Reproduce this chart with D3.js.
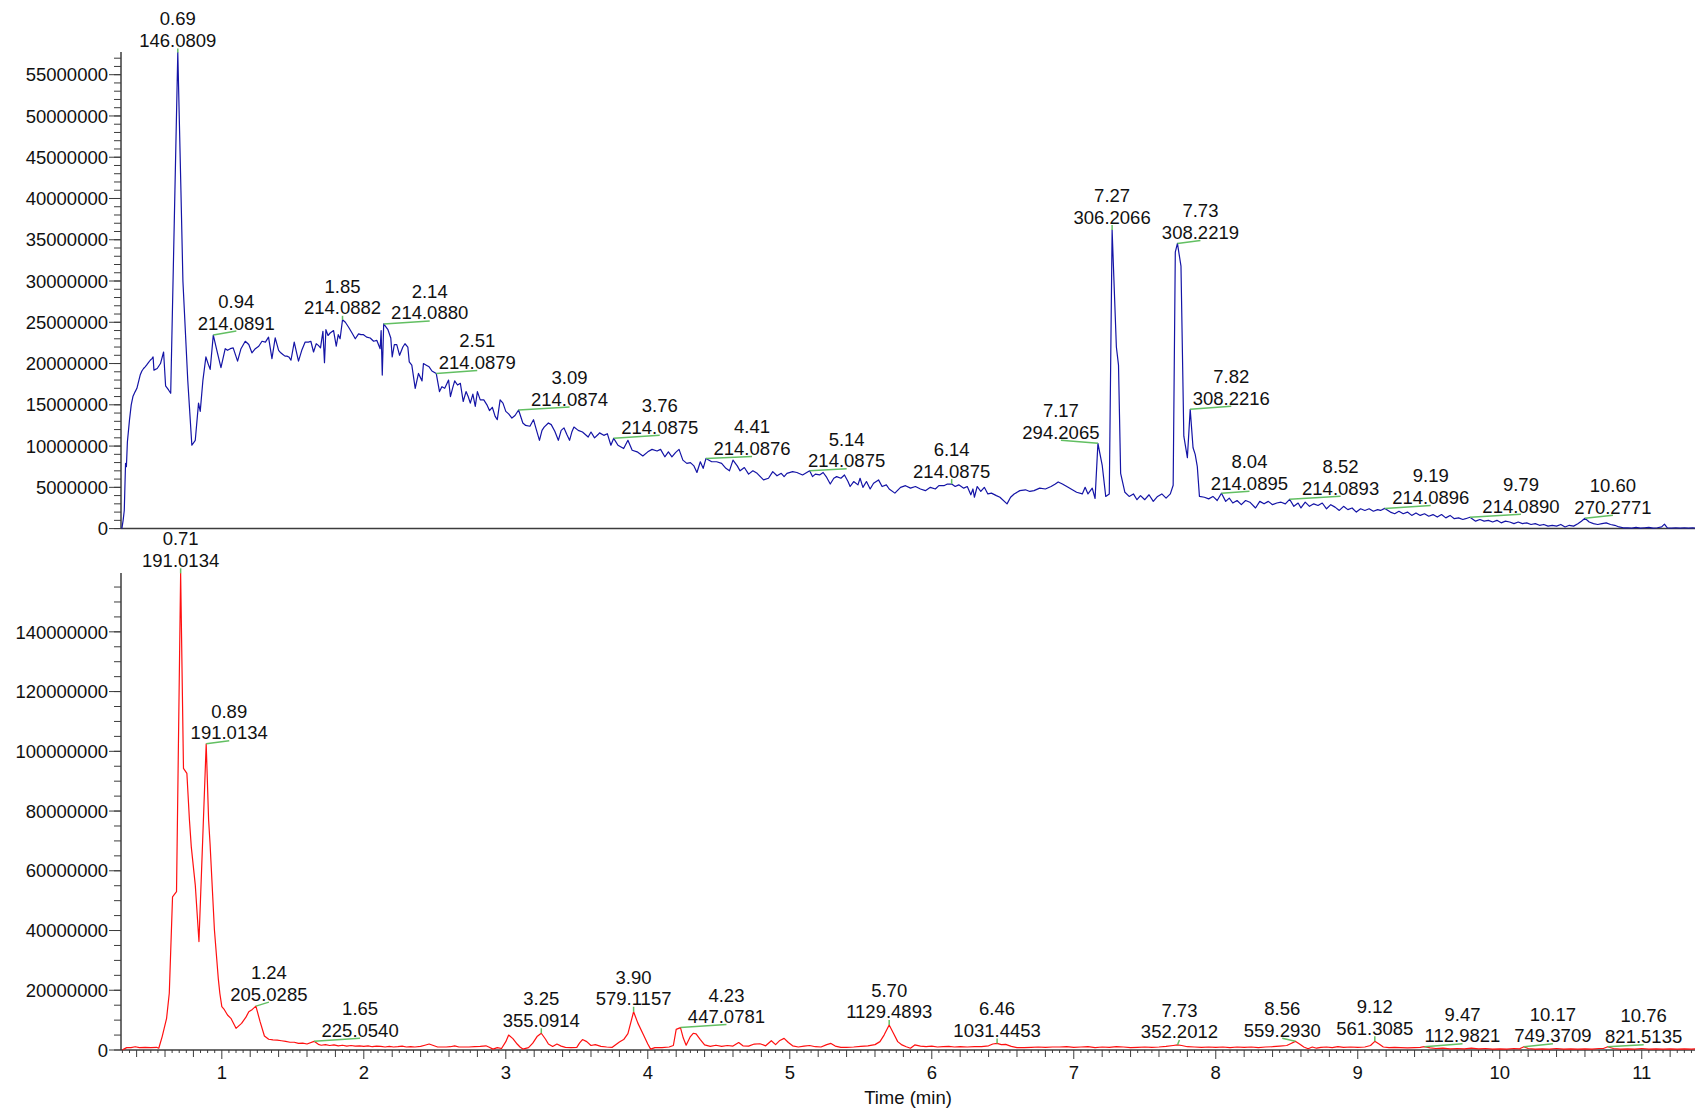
<!DOCTYPE html>
<html>
<head>
<meta charset="utf-8">
<script src="https://cdn.jsdelivr.net/npm/d3@7"></script>
<style>
  html, body { margin: 0; padding: 0; background: #fff; }
  svg { display: block; font-family: "Liberation Sans", Arial, Helvetica, sans-serif; }
</style>
</head>
<body>
<svg id="chart" width="1695" height="1109"></svg>
<script>
// Retention-time window shared by both chromatograms (minutes)
const timeDomain = [0.29, 11.375];

// Upper chromatogram: [retention time (min), intensity (x 1e6 counts)]
const upperTrace = [
  [0.296,0],[0.305,1.0],[0.313,2.2],[0.322,7.9],[0.328,7.5],[0.335,10.5],[0.35,13.2],[0.362,15.0],
  [0.374,16.0],[0.39,16.6],[0.402,17.0],[0.415,17.9],[0.425,18.6],[0.437,19.1],[0.449,19.4],[0.46,19.6],
  [0.47,19.8],[0.483,20.1],[0.496,20.4],[0.508,20.6],[0.516,20.8],[0.522,19.2],[0.545,19.4],[0.568,20.0],
  [0.59,21.4],[0.604,17.3],[0.625,16.8],[0.64,16.4],[0.665,37.0],[0.69,57.7],[0.712,41.0],[0.726,30.0],
  [0.76,18.0],[0.789,10.1],[0.813,10.7],[0.836,15.2],[0.848,14.2],[0.867,18.0],[0.888,20.8],[0.905,19.9],
  [0.918,19.3],[0.94,23.45],[0.965,21.6],[0.994,19.5],[1.024,21.8],[1.04,21.6],[1.06,21.8],[1.08,21.9],
  [1.111,20.3],[1.135,21.8],[1.165,22.7],[1.19,22.3],[1.212,21.3],[1.236,21.8],[1.26,22.1],[1.283,22.7],
  [1.307,22.6],[1.329,23.2],[1.353,20.6],[1.376,23.1],[1.4,21.6],[1.415,21.3],[1.43,21.1],[1.445,20.9],
  [1.458,20.9],[1.472,20.8],[1.487,20.4],[1.51,22.6],[1.54,20.3],[1.563,21.6],[1.587,22.6],[1.61,22.6],
  [1.627,22.7],[1.646,21.4],[1.665,22.4],[1.68,22.2],[1.695,21.9],[1.712,23.9],[1.723,20.1],[1.733,24.1],
  [1.748,23.4],[1.763,23.7],[1.787,24.0],[1.806,22.1],[1.82,23.5],[1.833,23.0],[1.85,25.3],[1.87,25.0],
  [1.893,24.4],[1.917,23.7],[1.94,23.0],[1.963,23.6],[1.98,23.5],[1.998,23.5],[2.02,23.2],[2.045,23.1],
  [2.069,22.7],[2.092,22.8],[2.115,21.8],[2.122,24.0],[2.13,18.6],[2.14,24.8],[2.17,24.1],[2.19,23.1],
  [2.2,20.8],[2.215,22.3],[2.232,22.3],[2.252,21.0],[2.275,22.0],[2.29,22.4],[2.31,22.0],[2.32,20.2],
  [2.338,19.8],[2.362,17.0],[2.385,18.8],[2.41,17.9],[2.42,20.0],[2.44,19.8],[2.46,19.6],[2.48,19.1],
  [2.51,18.8],[2.533,16.6],[2.55,17.2],[2.57,17.0],[2.597,18.0],[2.61,16.0],[2.625,17.0],[2.64,17.9],
  [2.66,17.4],[2.68,17.6],[2.70,15.4],[2.72,16.6],[2.735,16.0],[2.75,15.2],[2.768,16.3],[2.785,14.8],
  [2.80,16.6],[2.82,15.6],[2.845,15.6],[2.867,15.0],[2.885,14.3],[2.905,14.7],[2.925,13.6],[2.94,13.2],
  [2.96,15.6],[2.98,15.2],[3.0,14.2],[3.02,13.9],[3.043,13.4],[3.065,13.7],[3.09,14.37],[3.12,12.8],
  [3.14,12.5],[3.17,12.4],[3.195,13.2],[3.215,12.0],[3.237,10.7],[3.255,11.9],[3.27,12.3],[3.30,12.8],
  [3.32,12.6],[3.345,11.8],[3.37,10.7],[3.39,11.9],[3.41,12.2],[3.43,11.4],[3.449,10.7],[3.465,11.7],
  [3.48,12.3],[3.51,11.9],[3.54,11.7],[3.56,11.4],[3.58,11.1],[3.60,11.7],[3.625,11.0],[3.65,11.4],
  [3.66,11.6],[3.69,11.3],[3.715,11.5],[3.74,10.1],[3.76,10.94],[3.79,10.1],[3.83,9.7],[3.86,10.7],
  [3.89,9.5],[3.925,9.3],[3.965,8.8],[4.0,9.3],[4.03,9.6],[4.065,9.4],[4.09,9.6],[4.12,8.7],
  [4.145,9.3],[4.17,8.7],[4.195,9.2],[4.22,9.6],[4.247,8.3],[4.275,7.9],[4.3,8.0],[4.325,7.6],
  [4.346,6.8],[4.37,8.1],[4.39,7.3],[4.41,8.5],[4.45,8.1],[4.485,8.1],[4.52,7.9],[4.55,7.3],
  [4.575,7.0],[4.60,8.3],[4.63,7.6],[4.65,7.0],[4.68,7.4],[4.71,6.6],[4.74,7.0],[4.77,6.7],
  [4.815,5.9],[4.85,6.1],[4.88,6.9],[4.91,6.4],[4.94,6.7],[4.96,6.3],[4.98,6.7],[5.02,6.9],
  [5.05,6.8],[5.09,6.5],[5.14,7.0],[5.16,6.3],[5.18,6.6],[5.21,6.5],[5.235,6.8],[5.26,6.2],
  [5.285,5.4],[5.31,6.1],[5.33,6.3],[5.36,6.1],[5.385,6.5],[5.41,5.7],[5.425,5.1],[5.45,5.7],
  [5.48,5.3],[5.495,6.1],[5.515,5.0],[5.54,5.7],[5.566,4.8],[5.59,5.5],[5.625,5.9],[5.65,5.1],
  [5.68,5.3],[5.70,4.8],[5.74,4.3],[5.78,5.0],[5.815,5.2],[5.85,4.9],[5.885,5.1],[5.92,4.8],
  [5.955,4.6],[5.99,5.0],[6.025,4.8],[6.05,5.2],[6.085,5.2],[6.11,5.4],[6.14,5.4],[6.165,5.1],
  [6.19,5.3],[6.225,4.9],[6.25,5.1],[6.275,4.1],[6.29,4.8],[6.30,3.8],[6.32,5.1],[6.345,4.5],
  [6.37,5.0],[6.395,4.2],[6.42,4.3],[6.455,4.0],[6.48,3.8],[6.53,3.0],[6.555,3.8],[6.58,4.2],
  [6.62,4.6],[6.66,4.7],[6.69,4.5],[6.72,4.6],[6.76,4.9],[6.80,4.8],[6.84,5.1],[6.87,5.4],
  [6.89,5.65],[6.92,5.4],[6.96,5.0],[6.99,4.7],[7.02,4.4],[7.06,4.2],[7.08,5.0],[7.10,4.2],
  [7.13,4.9],[7.15,3.65],[7.17,10.33],[7.20,7.7],[7.225,3.9],[7.25,4.2],[7.27,36.17],[7.30,22.0],
  [7.315,19.8],[7.33,6.7],[7.36,4.4],[7.39,3.9],[7.42,4.2],[7.445,3.5],[7.47,4.0],[7.50,3.5],
  [7.53,4.1],[7.56,3.3],[7.59,3.9],[7.62,4.2],[7.65,3.7],[7.68,4.2],[7.70,5.25],[7.715,33.5],
  [7.73,34.56],[7.755,31.8],[7.775,11.2],[7.80,8.6],[7.82,14.45],[7.84,9.8],[7.855,9.0],[7.87,7.5],
  [7.885,3.9],[7.92,3.8],[7.95,3.6],[7.98,3.9],[8.01,3.4],[8.04,4.28],[8.07,3.3],[8.095,3.7],
  [8.12,3.1],[8.15,3.4],[8.18,2.9],[8.21,3.4],[8.24,3.2],[8.28,2.5],[8.31,3.3],[8.34,3.0],
  [8.37,3.3],[8.40,2.9],[8.43,3.1],[8.46,3.2],[8.49,3.0],[8.52,3.55],[8.55,2.7],[8.58,3.1],
  [8.60,2.5],[8.63,3.2],[8.66,2.7],[8.69,3.0],[8.72,2.8],[8.75,3.1],[8.78,2.4],[8.81,2.9],
  [8.84,2.6],[8.87,2.2],[8.90,2.7],[8.93,2.3],[8.96,2.5],[8.99,2.0],[9.02,2.4],[9.05,2.2],
  [9.08,2.4],[9.11,2.1],[9.14,2.3],[9.16,2.2],[9.19,2.45],[9.23,2.0],[9.26,1.8],[9.29,2.1],
  [9.32,1.8],[9.35,2.0],[9.38,1.6],[9.41,1.9],[9.44,1.6],[9.47,1.8],[9.50,1.5],[9.53,1.7],
  [9.56,1.4],[9.59,1.7],[9.62,1.3],[9.65,1.6],[9.68,1.2],[9.71,1.3],[9.74,1.1],[9.76,1.2],
  [9.79,1.37],[9.83,0.9],[9.86,1.1],[9.89,0.9],[9.92,1.0],[9.95,0.8],[9.98,1.0],[10.01,0.7],
  [10.04,0.9],[10.07,0.8],[10.10,0.6],[10.13,0.8],[10.16,0.6],[10.19,0.7],[10.22,0.5],[10.25,0.6],
  [10.28,0.4],[10.31,0.5],[10.34,0.3],[10.37,0.4],[10.40,0.3],[10.43,0.5],[10.46,0.2],[10.49,0.4],
  [10.52,0.3],[10.55,0.6],[10.575,0.9],[10.60,1.25],[10.63,0.8],[10.66,0.6],[10.69,0.5],[10.72,0.6],
  [10.75,0.7],[10.78,0.5],[10.81,0.4],[10.84,0.2],[10.87,0.1],[10.90,0.1],[10.93,0.05],[10.96,0.15],
  [10.99,0.05],[11.02,0.1],[11.05,0.15],[11.08,0.05],[11.11,0.1],[11.14,0.2],[11.16,0.55],[11.18,0.1],
  [11.21,0.05],[11.24,0.1],[11.27,0.05],[11.30,0.1],[11.33,0.05],[11.36,0.1],[11.39,0.05]
];

// Lower chromatogram: [retention time (min), intensity (x 1e6 counts)]
const lowerTrace = [
  [0.30,0],[0.31,0.3],[0.33,0.8],[0.36,0.8],[0.39,1.1],[0.42,0.8],[0.46,0.9],[0.50,0.8],
  [0.54,0.9],[0.556,0.6],[0.58,4.5],[0.611,10.6],[0.63,19.0],[0.653,51.3],[0.681,53.0],[0.71,159.6],
  [0.73,94.3],[0.754,92.6],[0.772,77.0],[0.785,68.0],[0.813,55.3],[0.839,36.3],[0.865,70.0],[0.89,102.5],
  [0.907,77.0],[0.917,69.2],[0.948,40.2],[0.975,24.0],[0.986,19.0],[1.0,14.5],[1.018,13.5],[1.04,11.7],
  [1.064,10.6],[1.10,7.25],[1.139,8.9],[1.17,11.0],[1.19,12.8],[1.215,13.6],[1.24,14.7],[1.27,9.4],
  [1.30,4.7],[1.33,3.6],[1.36,3.4],[1.39,3.3],[1.42,3.1],[1.45,2.9],[1.48,2.6],[1.51,2.6],
  [1.54,2.2],[1.57,2.3],[1.60,2.0],[1.65,2.9],[1.68,1.9],[1.70,1.6],[1.73,1.8],[1.76,1.5],
  [1.79,1.7],[1.82,1.4],[1.85,1.6],[1.88,1.3],[1.91,1.5],[1.94,1.3],[1.97,1.4],[2.00,1.2],
  [2.03,1.4],[2.06,1.1],[2.09,1.3],[2.12,1.2],[2.15,1.0],[2.18,1.2],[2.21,1.0],[2.24,1.1],
  [2.27,1.3],[2.30,1.0],[2.33,1.1],[2.36,1.0],[2.40,1.2],[2.43,1.6],[2.46,2.0],[2.49,1.5],
  [2.52,1.0],[2.55,1.0],[2.58,1.0],[2.61,1.1],[2.64,1.4],[2.67,1.0],[2.70,1.0],[2.74,1.0],
  [2.78,1.1],[2.82,1.2],[2.86,1.4],[2.88,1.0],[2.91,0.3],[2.94,0.8],[2.97,0.5],[3.00,2.8],
  [3.02,5.0],[3.05,3.8],[3.08,2.0],[3.10,1.0],[3.12,0.3],[3.16,0.8],[3.19,2.3],[3.22,4.5],
  [3.25,5.6],[3.28,3.6],[3.30,2.0],[3.33,1.2],[3.36,2.0],[3.39,1.3],[3.42,0.9],[3.46,0.8],
  [3.50,0.9],[3.52,2.4],[3.54,3.5],[3.57,2.8],[3.60,1.5],[3.63,1.8],[3.67,1.2],[3.71,1.0],
  [3.75,0.9],[3.80,2.7],[3.83,3.5],[3.86,5.5],[3.90,12.8],[3.93,9.0],[3.97,5.0],[4.0,2.0],
  [4.02,0.3],[4.05,0.8],[4.10,0.8],[4.15,1.0],[4.18,1.5],[4.20,6.9],[4.23,7.5],[4.25,4.0],
  [4.27,1.6],[4.30,4.5],[4.32,5.6],[4.34,5.4],[4.37,3.5],[4.40,1.7],[4.44,1.2],[4.48,1.6],
  [4.52,1.2],[4.56,1.5],[4.60,1.3],[4.64,2.5],[4.67,1.4],[4.71,1.3],[4.75,2.0],[4.79,2.1],
  [4.83,1.4],[4.87,3.1],[4.90,1.8],[4.93,3.2],[4.96,3.9],[4.99,2.5],[5.02,1.4],[5.06,1.0],
  [5.10,1.3],[5.14,1.5],[5.18,1.1],[5.22,1.0],[5.26,1.8],[5.29,2.2],[5.32,1.3],[5.36,0.9],
  [5.40,0.9],[5.45,1.0],[5.50,1.2],[5.55,1.4],[5.60,1.8],[5.635,2.8],[5.664,5.0],[5.70,8.4],
  [5.73,5.6],[5.76,2.8],[5.79,1.7],[5.82,1.1],[5.85,0.6],[5.88,1.7],[5.92,1.3],[5.96,1.1],
  [6.00,1.3],[6.04,1.0],[6.08,1.1],[6.12,1.2],[6.16,1.0],[6.20,1.1],[6.25,1.0],[6.30,1.1],
  [6.35,1.1],[6.40,1.4],[6.43,2.0],[6.46,2.2],[6.49,1.8],[6.52,1.9],[6.56,1.2],[6.60,0.8],
  [6.65,0.8],[6.70,0.9],[6.75,1.0],[6.80,0.9],[6.85,1.0],[6.90,1.0],[6.95,1.1],[7.00,0.9],
  [7.05,1.0],[7.10,1.1],[7.15,0.8],[7.20,1.0],[7.25,0.9],[7.30,1.1],[7.35,1.0],[7.40,0.8],
  [7.45,0.9],[7.50,1.0],[7.55,0.9],[7.60,1.0],[7.65,1.2],[7.70,1.5],[7.73,1.7],[7.76,1.5],
  [7.80,1.1],[7.85,1.0],[7.90,0.9],[7.95,1.0],[8.00,0.9],[8.05,1.0],[8.10,0.8],[8.15,1.0],
  [8.20,0.9],[8.25,1.0],[8.30,0.8],[8.35,1.0],[8.40,1.1],[8.45,1.3],[8.50,1.5],[8.53,2.2],
  [8.56,2.9],[8.59,2.0],[8.62,1.0],[8.65,0.4],[8.68,1.0],[8.71,0.6],[8.74,0.9],[8.78,1.0],
  [8.82,0.8],[8.86,1.1],[8.90,0.9],[8.95,1.0],[9.00,0.9],[9.05,1.0],[9.09,1.5],[9.12,2.9],
  [9.15,2.0],[9.18,1.0],[9.22,0.8],[9.26,0.9],[9.30,0.8],[9.35,0.7],[9.40,0.8],[9.44,0.9],
  [9.47,1.1],[9.51,0.7],[9.55,0.5],[9.60,0.6],[9.65,0.4],[9.70,0.5],[9.75,0.4],[9.80,0.6],
  [9.85,0.4],[9.90,0.5],[9.95,0.3],[10.00,0.4],[10.05,0.3],[10.10,0.5],[10.14,0.4],[10.17,1.1],
  [10.20,0.5],[10.25,0.3],[10.30,0.4],[10.35,0.3],[10.40,0.5],[10.45,0.3],[10.50,0.4],[10.55,0.3],
  [10.60,0.4],[10.65,0.3],[10.70,0.5],[10.73,0.5],[10.76,1.1],[10.80,0.5],[10.85,0.3],[10.90,0.4],
  [10.95,0.3],[11.00,0.5],[11.05,0.3],[11.10,0.4],[11.15,0.3],[11.20,0.4],[11.25,0.3],[11.30,0.4],
  [11.35,0.3],[11.39,0.4]
];

// Peak annotations: retention time and base-peak m/z
const upperPeakTimes = [0.69, 0.94, 1.85, 2.14, 2.51, 3.09, 3.76, 4.41, 5.14, 6.14, 7.17, 7.27, 7.73, 7.82, 8.04, 8.52, 9.19, 9.79, 10.60];
const upperPeakMz    = ["146.0809","214.0891","214.0882","214.0880","214.0879","214.0874","214.0875","214.0876","214.0875","214.0875",
                        "294.2065","306.2066","308.2219","308.2216","214.0895","214.0893","214.0896","214.0890","270.2771"];
const lowerPeakTimes = [0.71, 0.89, 1.24, 1.65, 3.25, 3.90, 4.23, 5.70, 6.46, 7.73, 8.56, 9.12, 9.47, 10.17, 10.76];
const lowerPeakMz    = ["191.0134","191.0134","205.0285","225.0540","355.0914","579.1157","447.0781","1129.4893","1031.4453",
                        "352.2012","559.2930","561.3085","112.9821","749.3709","821.5135"];

// Label anchor offsets from each peak apex (px)
const upperLabelOffsets = [[0,-4],[23,-4],[0,-4],[46,-3],[41,-3],[51,-3],[46,-3],[46,-2],[37,-2],[0,-5],
                           [-37,-3],[0,-5],[23,-3],[41,-3],[28,-2],[51,-3],[46,-3],[51,-3],[28,-3]];
const lowerLabelOffsets = [[0,-5],[23,-3],[13,-4],[46,-3],[0,-5],[0,-5],[46,-3],[0,-5],[0,-5],[2,-5],
                           [-13,-3],[0,-5],[38,-3],[29,-3],[36,-2]];

// Axis tick settings (counts)
const upperYMajor = d3.range(0, 55e6 + 1, 5e6);
const upperYMinor = d3.range(0, 57e6 + 1, 1e6);
const lowerYMajor = d3.range(0, 140e6 + 1, 20e6);
const lowerYMinor = d3.range(0, 155e6 + 1, 5e6);
const xMajor = d3.range(1, 12, 1);

const svg = d3.select("#chart");
const LEFT = 121, RIGHT = 1695;
const FONT = 18.5;
const LINE_GAP = 21.5;
const TEXT = "#111";
const AXIS = "#3c3c3c";
const LEADER = "#62bf62";

const x = d3.scaleLinear().domain(timeDomain).range([LEFT, RIGHT]);

function drawPanel(cfg) {
  const y = d3.scaleLinear().domain([0, cfg.yMax]).range([cfg.bottom, cfg.top]);
  const g = svg.append("g");

  // y axis: spine, minor and major ticks, labels
  g.append("line").attr("x1", LEFT).attr("x2", LEFT).attr("y1", cfg.top).attr("y2", cfg.bottom)
    .attr("stroke", AXIS).attr("stroke-width", 1.5);
  g.selectAll(".ymin").data(cfg.minor).join("line")
    .attr("x1", LEFT - 7).attr("x2", LEFT).attr("y1", d => y(d)).attr("y2", d => y(d))
    .attr("stroke", AXIS).attr("stroke-width", 1);
  g.selectAll(".ymaj").data(cfg.major).join("line")
    .attr("x1", LEFT - 12).attr("x2", LEFT).attr("y1", d => y(d)).attr("y2", d => y(d))
    .attr("stroke", AXIS).attr("stroke-width", 1);
  g.selectAll(".ylab").data(cfg.major).join("text")
    .attr("x", LEFT - 13).attr("y", d => y(d)).attr("dy", "0.36em")
    .attr("text-anchor", "end").attr("font-size", FONT).attr("fill", TEXT)
    .text(d => d3.format("d")(d));

  // x axis spine
  g.append("line").attr("x1", LEFT).attr("x2", RIGHT).attr("y1", cfg.bottom).attr("y2", cfg.bottom)
    .attr("stroke", AXIS).attr("stroke-width", 1.5);

  if (cfg.xTicks) {
    const fine = d3.range(0.3, 11.376, 0.05).map(v => Math.round(v * 100) / 100);
    g.selectAll(".xt").data(fine).join("line")
      .attr("x1", d => x(d)).attr("x2", d => x(d))
      .attr("y1", cfg.bottom)
      .attr("y2", d => {
        const r = Math.round(d * 100);
        if (r % 100 === 0) return cfg.bottom + 9;
        if (r % 20 === 0) return cfg.bottom + 7;
        return cfg.bottom + 3;
      })
      .attr("stroke", AXIS).attr("stroke-width", 1);
    g.selectAll(".xl").data(xMajor).join("text")
      .attr("x", d => x(d)).attr("y", cfg.bottom + 29)
      .attr("text-anchor", "middle").attr("font-size", FONT).attr("fill", TEXT)
      .text(d => d);
    g.append("text").attr("x", (LEFT + RIGHT) / 2).attr("y", cfg.bottom + 54)
      .attr("text-anchor", "middle").attr("font-size", FONT).attr("fill", TEXT)
      .text("Time (min)");
  }

  // chromatogram trace
  const line = d3.line().x(d => x(d[0])).y(d => y(d[1] * 1e6));
  g.append("path").datum(cfg.trace).attr("d", line)
    .attr("fill", "none").attr("stroke", cfg.color).attr("stroke-width", 1.2)
    .attr("stroke-linejoin", "round");

  // peak annotations with leader lines
  const anns = cfg.times.map((rt, i) => {
    const p = cfg.trace.find(d => Math.abs(d[0] - rt) < 1e-9);
    const px = x(rt), py = y(p[1] * 1e6);
    const [dx, dy] = cfg.offsets[i];
    return { rt, mz: cfg.mz[i], px, py, ax: px + dx, ay: py + dy };
  });
  g.selectAll(".lead").data(anns).join("line")
    .attr("x1", d => d.px).attr("y1", d => d.py).attr("x2", d => d.ax).attr("y2", d => d.ay)
    .attr("stroke", LEADER).attr("stroke-width", 1.5);
  const lab = g.selectAll(".lab").data(anns).join("text")
    .attr("text-anchor", "middle").attr("font-size", FONT).attr("fill", TEXT);
  lab.append("tspan").attr("x", d => d.ax).attr("y", d => d.ay - 1.5 - LINE_GAP).text(d => d.rt.toFixed(2));
  lab.append("tspan").attr("x", d => d.ax).attr("y", d => d.ay - 1.5).text(d => d.mz);
}

drawPanel({ top: 52, bottom: 528.6, yMax: 57.75e6, major: upperYMajor, minor: upperYMinor,
            trace: upperTrace, color: "#1414a6", times: upperPeakTimes, mz: upperPeakMz,
            offsets: upperLabelOffsets, xTicks: false });
drawPanel({ top: 573, bottom: 1050, yMax: 159.7e6, major: lowerYMajor, minor: lowerYMinor,
            trace: lowerTrace, color: "#ff1010", times: lowerPeakTimes, mz: lowerPeakMz,
            offsets: lowerLabelOffsets, xTicks: true });
</script>
</body>
</html>
